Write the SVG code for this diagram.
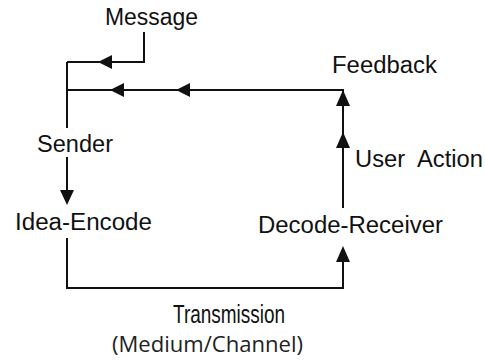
<svg xmlns="http://www.w3.org/2000/svg" width="485" height="360" viewBox="0 0 485 360">
<style>
.t{font-family:"Liberation Sans",Arial,sans-serif;font-size:23px;fill:#111}
.tr{font-family:"Liberation Sans",Arial,sans-serif;font-size:25px;fill:#111}
.c{font-family:"Open Sans","Liberation Sans",sans-serif;font-size:21px;fill:#222}
.l{fill:none;stroke:#111;stroke-width:2}
.a{fill:#111}
</style>
<rect width="485" height="360" fill="#fff"/>
<g id="connectors">
<polyline class="l" points="144,32 144,62 67,62"/>
<polyline class="l" points="343,208 343,90 67,90"/>
<line class="l" x1="67" y1="62" x2="67" y2="128"/>
<line class="l" x1="67" y1="157" x2="67" y2="192"/>
<polyline class="l" points="67,238 67,288 343,288 343,260"/>
<polygon class="a" points="98,62 112,55 112,69"/>
<polygon class="a" points="110,90 124,83 124,97"/>
<polygon class="a" points="176,90 190,83 190,97"/>
<polygon class="a" points="67,205 60,190 74,190"/>
<polygon class="a" points="343,246 336,262 350,262"/>
<polygon class="a" points="343,90 336,106 350,106"/>
<polygon class="a" points="343,132 336,148 350,148"/>
</g>
<g id="message"><text class="t" x="105" y="25" textLength="93" lengthAdjust="spacingAndGlyphs">Message</text></g>
<g id="feedback"><text class="t" x="332" y="73" textLength="105" lengthAdjust="spacingAndGlyphs">Feedback</text></g>
<g id="sender"><text class="t" x="37" y="152" textLength="76" lengthAdjust="spacingAndGlyphs">Sender</text></g>
<g id="user-action"><text class="t" x="355" y="167" textLength="128" lengthAdjust="spacingAndGlyphs" xml:space="preserve">User  Action</text></g>
<g id="idea-encode"><text class="t" x="15" y="230" textLength="137" lengthAdjust="spacingAndGlyphs">Idea-Encode</text></g>
<g id="decode-receiver"><text class="t" x="258" y="233" textLength="185" lengthAdjust="spacingAndGlyphs">Decode-Receiver</text></g>
<g id="transmission">
<text class="tr" x="173" y="323" textLength="112" lengthAdjust="spacingAndGlyphs">Transmission</text>
<text class="c" x="112" y="352" textLength="191" lengthAdjust="spacingAndGlyphs">(Medium/Channel)</text>
</g>
</svg>
